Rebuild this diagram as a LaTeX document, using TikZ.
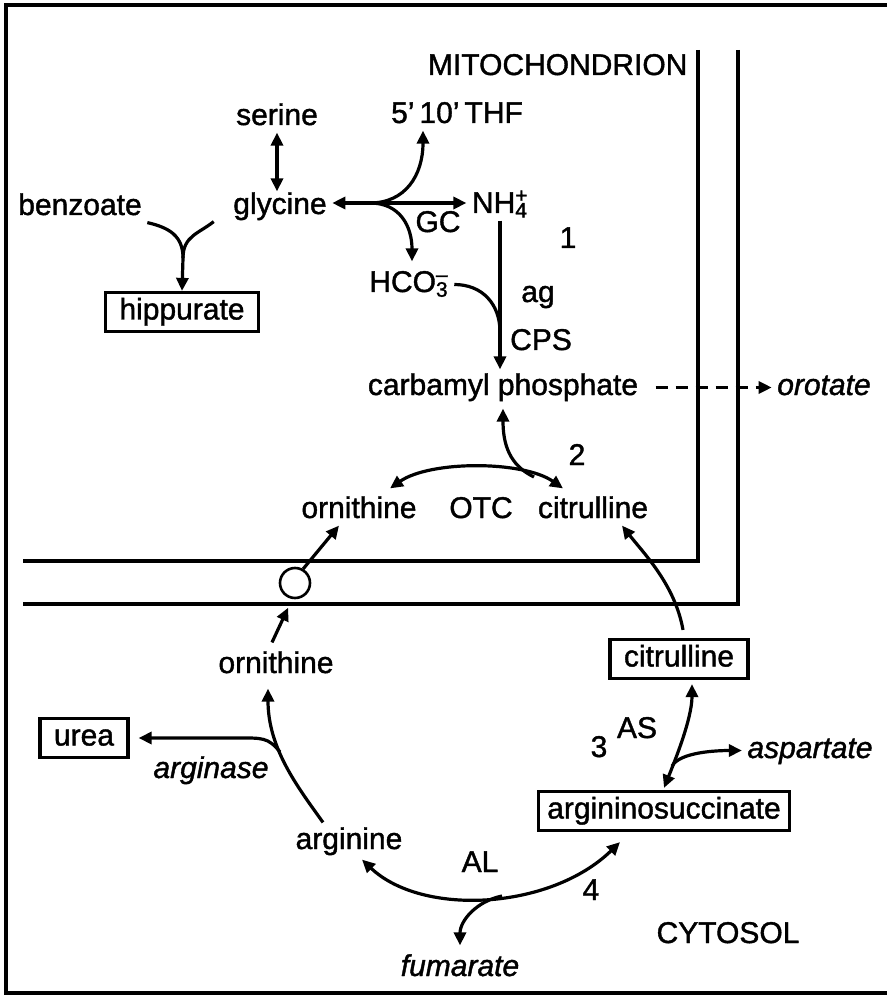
\documentclass[tikz,border=0pt]{standalone}
\usepackage{fontspec}
\setmainfont{Liberation Sans}[FakeBold=1.3]
\usetikzlibrary{arrows.meta}
\newcommand{\ionsub}[2]{\rlap{\textsuperscript{#2}}\textsubscript{#1}}

\begin{document}
\fontsize{15pt}{18pt}\selectfont
\begin{tikzpicture}[
        x=0.5pt, y=-0.5pt, line width=1.6pt,
        lbl/.style={anchor=base, inner xsep=2pt, inner ysep=0pt, text height=10.5pt, text depth=3pt},
        itl/.style={lbl, font=\itshape},
        boxed/.style={draw, inner xsep=7pt, inner ysep=3pt, text height=10.5pt, text depth=3pt},
        arr/.style={-{Triangle[length=6.5pt,width=6pt]}},
        darr/.style={{Triangle[length=6.5pt,width=6pt]}-{Triangle[length=6.5pt,width=6pt]}}
      ]
        \useasboundingbox (0,0) rectangle (887,1005);
        \draw (887,5) -- (6,5) -- (6,993) -- (887,993);
        \draw (698,50) -- (698,561) -- (23,561);
        \draw (738,50) -- (738,604) -- (23,604);

        \node[lbl, anchor=base east] (mito) at (693,75) {MITOCHONDRION};
        \node[lbl] (ser) at (277,125) {serine};
        \node[lbl] (thf) at (457,123) {5'\,10'\,THF};
        \node[lbl] (benz) at (80,215) {benzoate};
        \node[lbl] (gly) at (280,214) {glycine};
        \node[lbl] (nh) at (500,213) {NH\ionsub{4}{+}};
        \node[lbl] (gc) at (438,232) {GC};
        \node[lbl] (one) at (568,248) {1};
        \node[lbl] (hco) at (409,292) {HCO\ionsub{3}{--}};
        \node[lbl] (ag) at (538,302) {ag};
        \node[lbl] (cps) at (541,350) {CPS};
        \node[boxed] (hip) at (182,312) {hippurate};
        \node[lbl] (cp) at (503,395) {carbamyl phosphate};
        \node[itl] (oro) at (824,395) {orotate};
        \node[lbl] (two) at (577,465) {2};
        \node[lbl] (om) at (359,518) {ornithine};
        \node[lbl] (otc) at (481,518) {OTC};
        \node[lbl] (cm) at (593,518) {citrulline};
        \node[draw, circle, minimum size=15pt, inner sep=0pt, line width=1.3pt] (car) at (295,583) {};
        \node[lbl] (oc) at (276,673) {ornithine};
        \node[boxed] (cc) at (679,659) {citrulline};
        \node[boxed] (urea) at (84,738) {urea};
        \node[itl] (arginase) at (211,778) {arginase};
        \node[lbl] (three) at (599,757) {3};
        \node[lbl] (asl) at (637,738) {AS};
        \node[itl] (asp) at (810,758) {aspartate};
        \node[boxed, inner xsep=4.5pt] (as) at (664,811) {argininosuccinate};
        \node[lbl] (arg) at (349,849) {arginine};
        \node[lbl] (al) at (480,872) {AL};
        \node[lbl] (four) at (591,900) {4};
        \node[lbl] (cyt) at (728,943) {CYTOSOL};
        \node[itl] (fum) at (460,976) {fumarate};

        \coordinate (gcj) at (370,203);
        \coordinate (hipj) at (183,258);
        \coordinate (cpj) at (500,332);
        \coordinate (otcj) at (534,477);
        \coordinate (asj) at (672,766);
        \coordinate (alj) at (502,896);
        \coordinate (uj) at (280,752);
        \coordinate (ub) at (237,738);

        \draw[darr] (ser.south) -- (ser.south |- gly.north);
        \draw[arr] (gcj) -- (gly.east |- gcj);
        \draw[arr] (gcj) -- (nh.west |- gcj);
        \draw[arr] (gcj) .. controls +(35,0) and +(0,45) .. ([xshift=-17pt]thf.south);
        \draw[arr] (gcj) .. controls +(30,0) and +(0,-35) .. ([xshift=1.5pt,yshift=4pt]hco.north);
        \draw (benz.south east) .. controls +(22,5) and +(0,-22) .. (hipj);
        \draw ([xshift=-7pt]gly.south west) .. controls +(-15,12) and +(0,-22) .. (hipj);
        \draw[arr] (hipj) -- (hip.north);
        \draw[arr, shorten >=1.5pt] (nh.south) -- (nh.south |- cp.north);
        \draw (hco.east) .. controls +(28,0) and +(0,-28) .. (cpj);
        \draw[arr, dash pattern=on 6pt off 4pt, shorten <=6pt] (cp.east) -- (oro.west);
        \draw[darr] ([xshift=15.5pt,yshift=3.5pt]om.north) .. controls +(40,-28) and +(-40,-28) .. ([xshift=-15pt,yshift=3.5pt]cm.north);
        \draw[arr] (otcj) .. controls +(-25,-12) and +(0,35) .. ([yshift=-3pt]cp.south);
        \draw[arr] (car.60) -- ([xshift=-10pt]om.south);
        \draw[arr] ([xshift=-2pt,yshift=4pt]oc.north) -- ([yshift=-5pt]car.245);
        \draw[arr] ([xshift=2pt,yshift=4pt]cc.north) .. controls +(-8,-45) and +(22,28) .. ([xshift=14.5pt]cm.south);
        \draw[darr] ([xshift=6.5pt,yshift=-2pt]cc.south) .. controls +(0,35) and +(10,-25) .. ([yshift=1pt]as.north);
        \draw[arr] (asj) .. controls +(8,-14) and +(-25,0) .. (asp.west);
        \draw[darr] ([xshift=6.5pt,yshift=-1.5pt]arg.south) .. controls +(60,57) and +(-70,68) .. ([xshift=-22pt,yshift=-5pt]as.south);
        \draw[arr] (alj) .. controls +(-25,5) and +(0,-25) .. ([yshift=4pt]fum.north);
        \draw[arr] ([xshift=-13pt,yshift=2pt]arg.north) .. controls +(-25,-35) and +(0,60) .. ([xshift=-4pt,yshift=-4pt]oc.south);
        \draw[arr] (uj) .. controls +(-12,-15) and +(25,0) .. (ub) -- ([xshift=4.5pt]urea.east);
      \end{tikzpicture}
\end{document}
